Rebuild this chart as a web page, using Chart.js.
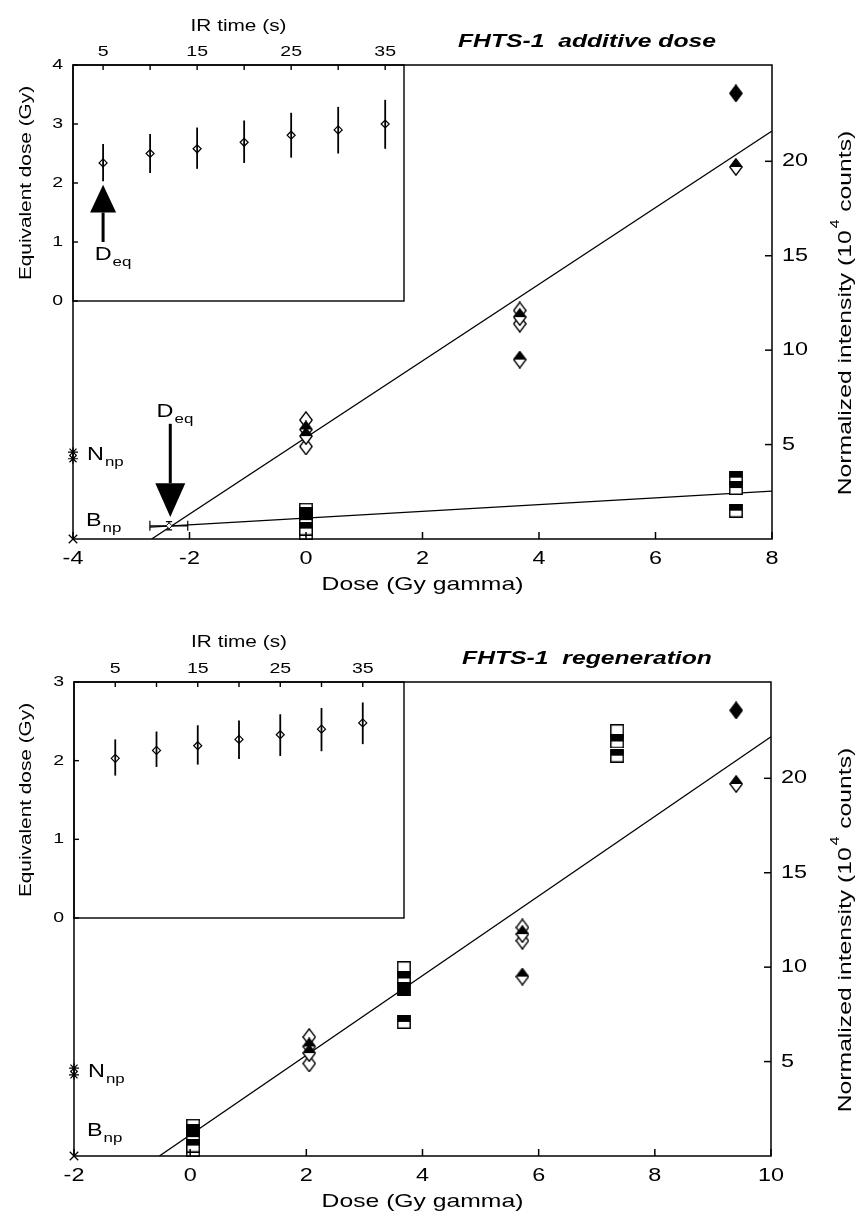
<!DOCTYPE html>
<html>
<head>
<meta charset="utf-8">
<script src="https://cdn.jsdelivr.net/npm/chart.js@4.4.1/dist/chart.umd.min.js"></script>
<style>
  body { margin: 0; background: #fff; }
  #wrap { position: relative; width: 859px; height: 1217px; overflow: hidden; }
  canvas { position: absolute; left: 0; }
</style>
</head>
<body>
<div id="wrap">
  <canvas id="addMain" width="859" height="600" style="top:0"></canvas>
  <canvas id="addInset" width="420" height="320" style="top:0"></canvas>
  <canvas id="regMain" width="859" height="600" style="top:617px"></canvas>
  <canvas id="regInset" width="420" height="320" style="top:617px"></canvas>
</div>
<script>
// ---- shared axes ----
const intensityTicks = [5, 10, 15, 20];
const intensityMax = 25.1;
const irTickValues = [5, 10, 15, 20, 25, 30, 35];
const irTickLabels = ['5', '', '15', '', '25', '', '35'];
const irTime = [5, 10, 15, 20, 25, 30, 35];

// ---- FHTS-1 additive dose : main plot ----
const addDoseTicks = [-4, -2, 0, 2, 4, 6, 8];
const addOpenDiamondDose = [0, 0, 3.67, 3.67];
const addOpenDiamondInt = [6.3, 4.9, 12.1, 11.4];
const addHalfDiamondDose = [0, 0, 3.67, 3.67, 7.38];
const addHalfDiamondInt = [5.8, 5.45, 11.75, 9.5, 19.7];
const addFullDiamondDose = [7.38];
const addFullDiamondInt = [23.6];
const addHalfSquareDose = [0, 0, 0, 7.38, 7.38, 7.38];
const addHalfSquareInt = [1.3, 1.0, 0.55, 3.25, 2.7, 1.5];
const addOpenSquareDose = [0, 0];
const addOpenSquareInt = [1.55, 0.3];
const addFitDose = [-2.65, 8];
const addFitInt = [0, 21.6];
const addBgFitDose = [-2.68, 8];
const addBgFitInt = [0.63, 2.54];
const addDeqDose = [-2.35];
const addDeqInt = [0.7];
const addDeqDoseLo = [-2.68];
const addDeqDoseHi = [-2.03];
const addDeqIntLo = [0.48];
const addDeqIntHi = [0.92];
const addNnpInt = [4.6, 4.25];
const addBnpInt = [0];

// ---- FHTS-1 additive dose : inset ----
const addEqTicks = [0, 1, 2, 3, 4];
const addEqDose = [2.34, 2.5, 2.58, 2.69, 2.81, 2.9, 3.0];
const addEqLo = [2.03, 2.17, 2.24, 2.34, 2.43, 2.5, 2.58];
const addEqHi = [2.66, 2.83, 2.94, 3.06, 3.19, 3.29, 3.41];

// ---- FHTS-1 regeneration : main plot ----
const regDoseTicks = [-2, 0, 2, 4, 6, 8, 10];
const regOpenDiamondDose = [2.05, 2.05, 5.72, 5.72];
const regOpenDiamondInt = [6.3, 4.9, 12.1, 11.4];
const regHalfDiamondDose = [2.05, 2.05, 5.72, 5.72, 9.4];
const regHalfDiamondInt = [5.8, 5.45, 11.75, 9.5, 19.7];
const regFullDiamondDose = [9.4];
const regFullDiamondInt = [23.6];
const regHalfSquareDose = [0.05, 0.05, 0.05, 3.68, 3.68, 7.35, 7.35];
const regHalfSquareInt = [1.3, 1.0, 0.55, 9.4, 7.1, 21.95, 21.2];
const regFullSquareDose = [3.68];
const regFullSquareInt = [8.85];
const regOpenSquareDose = [0.05, 0.05, 3.68, 7.35];
const regOpenSquareInt = [1.6, 0.3, 9.95, 22.5];
const regFitDose = [-0.53, 10];
const regFitInt = [0, 22.2];
const regNnpInt = [4.65, 4.3];
const regBnpInt = [0];

// ---- FHTS-1 regeneration : inset ----
const regEqTicks = [0, 1, 2, 3];
const regEqDose = [2.03, 2.13, 2.19, 2.27, 2.33, 2.40, 2.48];
const regEqLo = [1.81, 1.92, 1.95, 2.02, 2.06, 2.12, 2.21];
const regEqHi = [2.27, 2.37, 2.45, 2.51, 2.59, 2.67, 2.74];

// ---- look ----
const FONT = '"Liberation Sans", Arial, Helvetica, sans-serif';
const STRETCH = 1.3; // the scanned lettering is wide
Chart.defaults.font.family = FONT;
Chart.defaults.color = '#000';

// draws every text a bit wider, as in the scan
Chart.register({
  id: 'wideText',
  beforeInit(chart) {
    const ctx = chart.ctx;
    if (ctx._wide) return;
    const fill = ctx.fillText;
    ctx.fillText = function (text, x, y) {
      this.save();
      this.translate(x, y);
      this.scale(STRETCH, 1);
      fill.call(this, text, 0, 0);
      this.restore();
    };
    ctx._wide = true;
  }
});

function pts(xs, ys) { return xs.map((x, i) => ({ x: x, y: ys[i] })); }
function ticksFrom(values) { return s => { s.ticks = values.map(v => ({ value: v })); }; }

// small marker pictures: open, top half black, or black
function marker(shape, fill, w, h) {
  const c = document.createElement('canvas');
  c.width = w; c.height = h;
  const g = c.getContext('2d');
  const path = () => {
    g.beginPath();
    if (shape === 'diamond') {
      g.moveTo(w / 2, 0.8); g.lineTo(w - 0.8, h / 2); g.lineTo(w / 2, h - 0.8); g.lineTo(0.8, h / 2);
    } else {
      g.rect(0.8, 0.8, w - 1.6, h - 1.6);
    }
    g.closePath();
  };
  path();
  g.fillStyle = fill === 'full' ? '#000' : '#fff';
  g.fill();
  if (fill === 'top') {
    g.save(); path(); g.clip();
    g.fillStyle = '#000'; g.fillRect(0, 0, w, h / 2);
    g.restore();
  }
  path();
  g.lineWidth = 1.4; g.strokeStyle = '#000'; g.stroke();
  return c;
}
const diamondOpen = marker('diamond', 'open', 14, 18);
const diamondHalf = marker('diamond', 'top', 14, 18);
const diamondFull = marker('diamond', 'full', 14, 18);
const squareOpen = marker('square', 'open', 14, 14);
const squareHalf = marker('square', 'top', 14, 14);
const squareFull = marker('square', 'full', 14, 14);

// error bars (vertical and horizontal) under the points
const errorBars = {
  id: 'errorBars',
  beforeDatasetsDraw(chart) {
    const { ctx, scales: { x, y } } = chart;
    chart.data.datasets.forEach(ds => {
      if (!ds.yLo && !ds.xLo) return;
      ctx.save();
      ctx.strokeStyle = '#000';
      ctx.lineWidth = ds.errWidth || 1.5;
      ds.data.forEach((p, i) => {
        const px = x.getPixelForValue(p.x);
        const py = y.getPixelForValue(p.y);
        if (ds.yLo) {
          const a = y.getPixelForValue(ds.yLo[i]), b = y.getPixelForValue(ds.yHi[i]);
          ctx.beginPath(); ctx.moveTo(px, a); ctx.lineTo(px, b);
          if (ds.cap) {
            ctx.moveTo(px - ds.cap, a); ctx.lineTo(px + ds.cap, a);
            ctx.moveTo(px - ds.cap, b); ctx.lineTo(px + ds.cap, b);
          }
          ctx.stroke();
        }
        if (ds.xLo) {
          const a = x.getPixelForValue(ds.xLo[i]), b = x.getPixelForValue(ds.xHi[i]);
          ctx.beginPath(); ctx.moveTo(a, py); ctx.lineTo(b, py);
          ctx.moveTo(a, py - 5); ctx.lineTo(a, py + 5);
          ctx.moveTo(b, py - 5); ctx.lineTo(b, py + 5);
          ctx.stroke();
        }
      });
      ctx.restore();
    });
  }
};

// box round the plot area with inward tick marks
function frame(tickLen, lineWidth) {
  return {
    id: 'frame',
    afterDraw(chart) {
      const { ctx, chartArea: a } = chart;
      ctx.save();
      ctx.strokeStyle = '#000';
      ctx.lineWidth = lineWidth;
      ctx.strokeRect(a.left, a.top, a.right - a.left, a.bottom - a.top);
      Object.values(chart.scales).forEach(s => {
        s.ticks.forEach(t => {
          const p = s.getPixelForValue(t.value);
          ctx.beginPath();
          if (s.position === 'bottom') { ctx.moveTo(p, a.bottom); ctx.lineTo(p, a.bottom - tickLen); }
          else if (s.position === 'top') { ctx.moveTo(p, a.top); ctx.lineTo(p, a.top + tickLen); }
          else if (s.position === 'left') { ctx.moveTo(a.left, p); ctx.lineTo(a.left + tickLen, p); }
          else { ctx.moveTo(a.right, p); ctx.lineTo(a.right - tickLen, p); }
          ctx.stroke();
        });
      });
      ctx.restore();
    }
  };
}

// labels with subscripts, arrows, panel title, right axis title
function notes(items, title) {
  return {
    id: 'notes',
    afterDraw(chart) {
      const { ctx, scales: { x, y } } = chart;
      items.forEach(n => {
        ctx.save();
        ctx.fillStyle = '#000';
        ctx.strokeStyle = '#000';
        if (n.type === 'arrow') {
          const px = x.getPixelForValue(n.x);
          const yTail = y.getPixelForValue(n.tail);
          const yBase = y.getPixelForValue(n.base);
          const yTip = y.getPixelForValue(n.tip);
          ctx.lineWidth = 3;
          ctx.beginPath(); ctx.moveTo(px, yTail); ctx.lineTo(px, yBase); ctx.stroke();
          ctx.beginPath();
          ctx.moveTo(px - n.head / 2, yBase); ctx.lineTo(px + n.head / 2, yBase); ctx.lineTo(px, yTip);
          ctx.closePath(); ctx.fill();
        } else {
          let px = x.getPixelForValue(n.x) + (n.dx || 0);
          const py = y.getPixelForValue(n.y);
          ctx.textBaseline = 'middle';
          ctx.textAlign = 'left';
          ctx.font = '18px ' + FONT;
          const w = ctx.measureText(n.text).width * STRETCH;
          if (n.center) px -= w / 2;
          ctx.fillText(n.text, px, py);
          ctx.font = '13px ' + FONT;
          ctx.fillText(n.sub, px + w + 1, py + 7);
        }
        ctx.restore();
      });
      if (!title) return;
      ctx.save();
      ctx.fillStyle = '#000';
      ctx.textBaseline = 'middle';
      ctx.textAlign = 'center';
      ctx.font = 'italic bold 19px ' + FONT;
      ctx.fillText(title, 587, 42);
      // right axis title, read from bottom to top
      ctx.translate(846, 313);
      ctx.rotate(-Math.PI / 2);
      ctx.textAlign = 'left';
      const a = 'Normalized intensity (10', b = '4', c = ' counts)';
      ctx.font = '19px ' + FONT;
      const wa = ctx.measureText(a).width * STRETCH;
      const wc = ctx.measureText(c).width * STRETCH;
      ctx.font = '12px ' + FONT;
      const wb = ctx.measureText(b).width * STRETCH;
      const sx = -(wa + wb + wc + 3) / 2;
      ctx.font = '19px ' + FONT;
      ctx.fillText(a, sx, 0);
      ctx.fillText(c, sx + wa + wb + 3, 0);
      ctx.font = '12px ' + FONT;
      ctx.fillText(b, sx + wa + 2, -10);
      ctx.restore();
    }
  };
}

function lineSet(xs, ys) {
  return { type: 'line', data: pts(xs, ys), borderColor: '#000', borderWidth: 1.3,
           pointRadius: 0, showLine: true, fill: false, order: 20 };
}
function markSet(xs, ys, style, order) {
  return { data: pts(xs, ys), pointStyle: style, pointRadius: 7, order: order, clip: false };
}

function mainChart(id, o) {
  return new Chart(document.getElementById(id), {
    type: 'scatter',
    data: { datasets: o.datasets },
    options: {
      responsive: false, animation: false, devicePixelRatio: 1, events: [],
      layout: { padding: { left: o.left, top: 65, right: 0, bottom: 0 } },
      scales: {
        x: {
          type: 'linear', position: 'bottom', min: o.xMin, max: o.xMax,
          afterBuildTicks: ticksFrom(o.xTicks),
          afterFit: s => { s.height = 61; },
          grid: { display: false, drawTicks: false }, border: { display: false },
          ticks: { padding: 9, font: { size: 18 }, maxRotation: 0, autoSkip: false },
          title: { display: true, text: 'Dose (Gy gamma)', font: { size: 19 }, padding: { top: 0, bottom: 4 } }
        },
        y: {
          type: 'linear', position: 'right', min: 0, max: intensityMax,
          afterBuildTicks: ticksFrom(intensityTicks),
          afterFit: s => { s.width = 859 - o.right; },
          grid: { display: false, drawTicks: false }, border: { display: false },
          ticks: { padding: 10, font: { size: 18 } }
        }
      },
      plugins: { legend: { display: false }, tooltip: { enabled: false } }
    },
    plugins: [errorBars, frame(7, 1.5), notes(o.notes, o.title)]
  });
}

function insetChart(id, o) {
  return new Chart(document.getElementById(id), {
    type: 'scatter',
    data: {
      datasets: [{
        data: pts(irTime, o.values), yLo: o.lo, yHi: o.hi, errWidth: 1.8,
        pointStyle: 'rectRot', pointRadius: 4, borderWidth: 1.2,
        borderColor: '#000', backgroundColor: 'rgba(0,0,0,0)', clip: false
      }]
    },
    options: {
      responsive: false, animation: false, devicePixelRatio: 1, events: [],
      layout: { padding: { left: 0, top: 0, right: 420 - 404, bottom: 320 - o.bottom } },
      scales: {
        x: {
          type: 'linear', position: 'top', min: o.tMin, max: o.tMax,
          afterBuildTicks: ticksFrom(irTickValues),
          afterFit: s => { s.height = o.top; },
          grid: { display: false, drawTicks: false }, border: { display: false },
          ticks: { padding: 4, font: { size: 15 }, maxRotation: 0, autoSkip: false,
                   callback: (v, i) => irTickLabels[i] },
          title: { display: true, text: 'IR time (s)', font: { size: 16 }, padding: { top: o.titleTop, bottom: 0 } }
        },
        y: {
          type: 'linear', position: 'left', min: 0, max: o.yMax,
          afterBuildTicks: ticksFrom(o.yTicks),
          afterFit: s => { s.width = o.left; },
          grid: { display: false, drawTicks: false }, border: { display: false },
          ticks: { padding: 10, font: { size: 15 } },
          title: { display: true, text: 'Equivalent dose (Gy)', font: { size: 16 }, padding: { top: 17, bottom: 0 } }
        }
      },
      plugins: { legend: { display: false }, tooltip: { enabled: false } }
    },
    plugins: [errorBars, frame(5, 1.4), notes(o.notes, null)]
  });
}

// ---- additive dose panel ----
mainChart('addMain', {
  left: 73, right: 772, xMin: -4, xMax: 8, xTicks: addDoseTicks,
  title: 'FHTS-1  additive dose',
  datasets: [
    markSet(addFullDiamondDose, addFullDiamondInt, diamondFull, 1),
    markSet(addHalfDiamondDose, addHalfDiamondInt, diamondHalf, 2),
    markSet(addOpenDiamondDose, addOpenDiamondInt, diamondOpen, 3),
    markSet(addHalfSquareDose, addHalfSquareInt, squareHalf, 5),
    markSet(addOpenSquareDose, addOpenSquareInt, squareOpen, 6),
    { data: pts(addDeqDose, addDeqInt), xLo: addDeqDoseLo, xHi: addDeqDoseHi,
      yLo: addDeqIntLo, yHi: addDeqIntHi, cap: 3, errWidth: 1.2,
      pointStyle: 'rectRot', pointRadius: 3, borderWidth: 1, borderColor: '#000', backgroundColor: '#fff', order: 7 },
    { data: pts([-4, -4], addNnpInt), pointStyle: 'star', pointRadius: 5, borderWidth: 1.2,
      borderColor: '#000', order: 8, clip: false },
    { data: pts([-4], addBnpInt), pointStyle: 'crossRot', pointRadius: 6, borderWidth: 1.3,
      borderColor: '#000', order: 8, clip: false },
    lineSet(addFitDose, addFitInt),
    lineSet(addBgFitDose, addBgFitInt)
  ],
  notes: [
    { type: 'arrow', x: -2.33, tail: 6.1, base: 2.95, tip: 1.16, head: 30 },
    { type: 'label', x: -2.42, y: 6.7, text: 'D', sub: 'eq', center: true },
    { type: 'label', x: -4, y: 4.45, dx: 14, text: 'N', sub: 'np' },
    { type: 'label', x: -4, y: 0.95, dx: 13, text: 'B', sub: 'np' }
  ]
});

insetChart('addInset', {
  values: addEqDose, lo: addEqLo, hi: addEqHi, tMin: 1.8, tMax: 37,
  yMax: 4, yTicks: addEqTicks, left: 73, top: 65, bottom: 308, titleTop: 17,
  notes: [
    { type: 'arrow', x: 5, tail: 1.0, base: 1.5, tip: 1.97, head: 26 },
    { type: 'label', x: 5, y: 0.78, text: 'D', sub: 'eq', center: true }
  ]
});

// ---- regeneration panel ----
mainChart('regMain', {
  left: 74, right: 771, xMin: -2, xMax: 10, xTicks: regDoseTicks,
  title: 'FHTS-1  regeneration',
  datasets: [
    markSet(regFullDiamondDose, regFullDiamondInt, diamondFull, 1),
    markSet(regHalfDiamondDose, regHalfDiamondInt, diamondHalf, 2),
    markSet(regOpenDiamondDose, regOpenDiamondInt, diamondOpen, 3),
    markSet(regFullSquareDose, regFullSquareInt, squareFull, 4),
    markSet(regHalfSquareDose, regHalfSquareInt, squareHalf, 5),
    markSet(regOpenSquareDose, regOpenSquareInt, squareOpen, 6),
    { data: pts([-2, -2], regNnpInt), pointStyle: 'star', pointRadius: 5, borderWidth: 1.2,
      borderColor: '#000', order: 8, clip: false },
    { data: pts([-2], regBnpInt), pointStyle: 'crossRot', pointRadius: 6, borderWidth: 1.3,
      borderColor: '#000', order: 8, clip: false },
    lineSet(regFitDose, regFitInt)
  ],
  notes: [
    { type: 'label', x: -2, y: 4.45, dx: 14, text: 'N', sub: 'np' },
    { type: 'label', x: -2, y: 1.3, dx: 13, text: 'B', sub: 'np' }
  ]
});

insetChart('regInset', {
  values: regEqDose, lo: regEqLo, hi: regEqHi, tMin: 0, tMax: 40,
  yMax: 3, yTicks: regEqTicks, left: 74, top: 65, bottom: 307, titleTop: 16,
  notes: []
});
</script>
</body>
</html>
